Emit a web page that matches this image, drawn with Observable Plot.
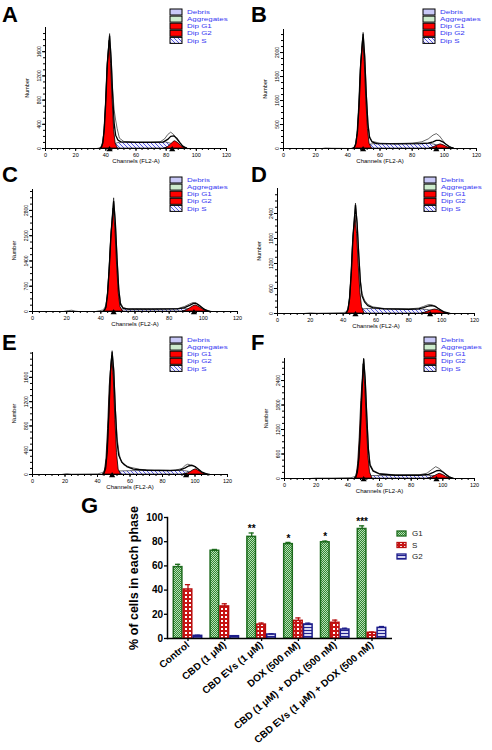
<!DOCTYPE html>
<html><head><meta charset="utf-8">
<script src="https://cdn.jsdelivr.net/npm/d3@7"></script>
<script src="https://cdn.jsdelivr.net/npm/@observablehq/plot@0.6"></script>
<style>
body{margin:0;background:#fff;}
#page{position:relative;width:492px;height:750px;overflow:hidden;background:#fff;font-family:"Liberation Sans",Arial,sans-serif;}
.panel{position:absolute;}
.letter{position:absolute;font:bold 22px "Liberation Sans",Arial,sans-serif;line-height:1;color:#000;}
</style></head><body>
<svg width="0" height="0" style="position:absolute">
<defs>
<pattern id="hatchS" patternUnits="userSpaceOnUse" width="4" height="4">
<rect width="4" height="4" fill="#f2f2ff"/>
<path d="M-1,-1 L5,5 M-1,3 L1,5 M3,-1 L5,1" stroke="#3030d8" stroke-width="0.8"/>
</pattern>
<pattern id="patG1" patternUnits="userSpaceOnUse" width="2" height="2">
<rect width="2" height="2" fill="#b9dcb9"/>
<rect width="1" height="1" fill="#2f8a2f"/>
<rect x="1" y="1" width="1" height="1" fill="#2f8a2f"/>
</pattern>
<pattern id="patS" patternUnits="userSpaceOnUse" width="4" height="4">
<rect width="4" height="4" fill="#c81414"/>
<rect x="1" y="1" width="2" height="2" fill="#ffffff"/>
</pattern>
<pattern id="patG2" patternUnits="userSpaceOnUse" width="3" height="3">
<rect width="3" height="3" fill="#d6d6f2"/>
<rect width="3" height="1" fill="#22228f"/>
</pattern>
</defs></svg>
<div id="page"></div>
<script>
// ---------- Histogram panels A–F (channel, count) ----------
const xTicksH = [0, 20, 40, 60, 80, 100, 120];
const legendNames = ["Debris", "Aggregates", "Dip G1", "Dip G2", "Dip S"];

// Panel A
const aTicks = [0, 400, 800, 1200, 1600];
const aG1 = [[37,0],[38,40],[39,250],[40,700],[41,1300],[42.5,1780],[43.5,1400],[44.5,800],[45.5,300],[46.5,80],[48,0]];
const aS = [[43,0],[45,40],[47,80],[49,95],[60,100],[70,100],[80,100],[83,80],[86,50],[89,20],[92,0]];
const aG2 = [[79,0],[81,20],[83,60],[85,110],[86,120],[88,90],[90,40],[92,10],[94,0]];
const aFit = [[36,0],[37,20],[38,90],[39,320],[40,780],[41,1400],[42.5,1860],[43.5,1480],[44.5,900],[45.5,420],[46.5,220],[48,140],[50,110],[60,100],[70,100],[78,105],[81,150],[83,200],[85,210],[87,170],[89,100],[91,40],[94,0]];
const aRaw = [[0,0],[34,0],[36,10],[37,40],[38,120],[39,380],[40,850],[41,1450],[42.5,1900],[43.5,1520],[44.5,980],[45.5,640],[46.5,470],[47.5,330],[49,170],[52,115],[60,100],[70,100],[76,110],[79,160],[81,230],[83,270],[85,230],[87,150],[89,90],[91,35],[94,0],[120,0]];
const aPeaks = [42.5, 84];

// Panel B
const bTicks = [0, 500, 1000, 1500, 2000];
const bG1 = [[44,0],[45,50],[46,300],[47,850],[48,1650],[49.5,2300],[50.5,1800],[51.5,1000],[52.5,400],[53.5,100],[55,0]];
const bS = [[50,0],[52,40],[54,80],[56,90],[70,95],[85,100],[91,100],[94,80],[97,50],[100,20],[103,0]];
const bG2 = [[91,0],[93,20],[95,50],[97,80],[98,85],[100,60],[102,25],[104,5],[106,0]];
const bFit = [[43,0],[44,20],[45,100],[46,350],[47,900],[48,1750],[49.5,2380],[50.5,1900],[51.5,1100],[52.5,500],[53.5,230],[55,140],[58,100],[70,95],[85,100],[90,110],[93,140],[95,170],[97,170],[99,140],[101,90],[103,40],[106,0]];
const bRaw = [[0,0],[24,0],[26,10],[30,5],[42,0],[44,30],[45,120],[46,380],[47,950],[48,1800],[49.5,2420],[50.5,1950],[51.5,1150],[52.5,550],[53.5,260],[55,150],[60,110],[70,100],[80,110],[86,140],[90,200],[93,280],[95,310],[97,260],[99,170],[101,90],[103,40],[106,0],[120,0]];
const bPeaks = [49.5, 95];

// Panel C
const cTicks = [0, 700, 1400, 2100, 2800];
const cG1 = [[42,0],[43,60],[44,400],[45,1100],[46,2000],[47.5,2850],[48.5,2300],[49.5,1300],[50.5,500],[51.5,120],[53,0]];
const cS = [[48,0],[50,30],[53,55],[60,60],[70,60],[80,65],[88,70],[92,60],[95,40],[98,15],[101,0]];
const cG2 = [[88,0],[90,25],[92,80],[94,140],[95.5,170],[97,140],[99,80],[101,25],[103,0]];
const cFit = [[41,0],[42,30],[43,120],[44,500],[45,1250],[46,2150],[47.5,3050],[48.5,2450],[49.5,1450],[50.5,600],[51.5,200],[53,90],[56,65],[70,65],[85,75],[89,110],[92,170],[94,220],[95.5,230],[97,190],[99,120],[101,50],[104,0]];
const cRaw = [[0,0],[18,0],[21,25],[23,35],[25,10],[27,0],[37,0],[39,20],[41,40],[42,80],[43,180],[44,560],[45,1300],[46,2250],[47.5,3150],[48.5,2500],[49.5,1500],[50.5,650],[51.5,250],[53,110],[56,70],[70,65],[85,80],[89,140],[92,210],[94,250],[96,230],[98,160],[100,80],[102,30],[105,0],[120,0]];
const cPeaks = [47.5, 94.5];

// Panel D
const dTicks = [0, 600, 1200, 1800, 2400];
const dG1 = [[42,0],[43,50],[44,300],[45,900],[46,1700],[47.5,2350],[48.5,1900],[49.5,1150],[50.5,500],[51.5,150],[53,0]];
const dS = [[46,0],[49,60],[52,100],[56,110],[65,100],[80,95],[88,95],[91,85],[94,60],[97,30],[100,10],[103,0]];
const dG2 = [[88,0],[90,20],[92,50],[94,80],[96,95],[98,80],[100,45],[102,15],[104,0]];
const dFit = [[41,0],[42,20],[43,100],[44,380],[45,1000],[46,1850],[47.5,2600],[48.5,2150],[49.5,1400],[50.5,750],[51.5,420],[53,280],[55,190],[58,140],[65,110],[80,100],[86,110],[89,140],[92,180],[94,190],[96,170],[98,120],[100,70],[102,30],[105,0]];
const dRaw = [[0,0],[16,0],[20,15],[24,5],[30,10],[40,20],[42,40],[43,130],[44,420],[45,1050],[46,1900],[47.5,2650],[48.5,2200],[49.5,1450],[50.5,800],[51.5,480],[53,320],[55,220],[58,160],[65,120],[80,110],[86,130],[89,170],[92,215],[94,210],[96,180],[98,120],[100,70],[102,30],[105,0],[120,0]];
const dPeaks = [47.5, 93];

// Panel E
const eTicks = [0, 400, 800, 1200, 1600];
const eG1 = [[43.5,0],[44.5,40],[45.5,250],[46.5,750],[47.5,1450],[49,1950],[50,1600],[51,900],[52,350],[53,80],[54.5,0]];
const eS = [[48,0],[51,30],[54,50],[60,55],[75,60],[90,60],[94,55],[97,40],[100,20],[103,5],[106,0]];
const eG2 = [[93,0],[95,10],[97,35],[99,70],[100.5,85],[102,65],[104,30],[106,8],[108,0]];
const eFit = [[43,0],[44,20],[45,100],[46,380],[47,1000],[48,1700],[49,2010],[50,1700],[51,1050],[52,550],[53,320],[55,200],[58,130],[62,90],[70,70],[85,65],[91,75],[94,110],[96,140],[98,150],[100,130],[102,90],[104,45],[107,10],[109,0]];
const eRaw = [[0,0],[18,0],[21,15],[24,5],[40,10],[43,30],[44,60],[45,130],[46,420],[47,1050],[48,1750],[49,2040],[50,1750],[51,1100],[52,620],[53,400],[54,260],[56,160],[60,120],[66,85],[75,70],[88,70],[92,100],[94,150],[95.5,170],[97,160],[99,150],[101,110],[103,60],[105,25],[108,0],[120,0]];
const ePeaks = [49, 94.5];

// Panel F
const fTicks = [0, 600, 1200, 1800, 2400];
const fG1 = [[44.5,0],[45.5,60],[46.5,350],[47.5,1000],[48.5,1900],[50,2800],[51,2250],[52,1350],[53,550],[54,150],[55.5,0]];
const fS = [[49,0],[52,40],[55,60],[65,60],[80,65],[90,70],[94,60],[97,40],[100,15],[103,0]];
const fG2 = [[91,0],[93,20],[95,60],[97,100],[98,115],[100,90],[102,45],[104,12],[106,0]];
const fFit = [[44,0],[45,25],[46,150],[47,500],[48,1250],[49,2200],[50,2920],[51,2400],[52,1500],[53,700],[54,320],[56,180],[60,110],[70,80],[85,80],[91,100],[94,150],[96,190],[98,200],[100,160],[102,100],[104,40],[107,0]];
const fRaw = [[0,0],[16,0],[20,10],[30,10],[42,20],[44,40],[45,80],[46,200],[47,560],[48,1300],[49,2250],[50,2950],[51,2450],[52,1550],[53,750],[54,360],[56,200],[60,120],[70,90],[85,90],[90,130],[93,220],[95.5,290],[98,240],[100,170],[102,100],[104,40],[107,0],[120,0]];
const fPeaks = [50, 96];

// ---------- Panel G (bar chart) ----------
const groups = ["Control", "CBD (1 μM)", "CBD EVs (1 μM)", "DOX (500 nM)", "CBD (1 μM) + DOX (500 nM)", "CBD EVs (1 μM) + DOX (500 nM)"];
const phases = ["G1", "S", "G2"];
const g1Mean = [59, 72.5, 84, 78, 79.5, 90.5];
const g1Err  = [2.3, 1.1, 3.2, 1.4, 1.0, 2.6];
const sMean  = [40.5, 26.5, 11.5, 14.6, 13, 4.7];
const sErr   = [4.0, 2.2, 1.3, 2.4, 2.2, 0.6];
const g2Mean = [2.2, 1.9, 3.3, 11.6, 7.4, 8.8];
const g2Err  = [0.5, 0.3, 0.5, 1.1, 1.1, 1.1];
const stars  = ["", "", "**", "*", "*", "***"];
const gYTicks = [0, 20, 40, 60, 80, 100];

const FONT = '"Liberation Sans", Arial, sans-serif';
const page = document.getElementById("page");

function place(node, left, top) {
  const div = document.createElement("div");
  div.className = "panel";
  div.style.left = left + "px";
  div.style.top = top + "px";
  div.appendChild(node);
  page.appendChild(div);
}

function letter(t, left, top) {
  const d = document.createElement("div");
  d.className = "letter";
  d.textContent = t;
  d.style.left = left + "px";
  d.style.top = top + "px";
  page.appendChild(d);
}

const legendFills = ["#c9c9f7", "#cdeccd", "#ff0000", "#ff0000", "url(#hatchS)"];

function hist(c) {
  const [bx, by, bw, bh] = c.box;
  const X = d => d[0], Y = d => d[1];
  const step = c.ticks[1] / 4;
  const svg = Plot.plot({
    width: bw, height: bh,
    marginLeft: c.x0 - bx, marginRight: bx + bw - c.x1,
    marginTop: c.yTop - by, marginBottom: by + bh - c.yBase,
    style: {fontFamily: FONT, overflow: "visible", background: "transparent", color: "#000"},
    x: {domain: [0, 120]},
    y: {domain: [0, c.ymax]},
    marks: [
      Plot.areaY(c.s, {x: X, y: Y, fill: "url(#hatchS)", stroke: "#111", strokeWidth: 0.6}),
      Plot.areaY(c.g1, {x: X, y: Y, fill: "#ff0000", stroke: "#000", strokeWidth: 0.8}),
      Plot.areaY(c.g2, {x: X, y: Y, fill: "#ff0000", stroke: "#000", strokeWidth: 0.8}),
      Plot.lineY(c.raw, {x: X, y: Y, stroke: "#000", strokeWidth: 0.6}),
      Plot.lineY(c.fit, {x: X, y: Y, stroke: "#000", strokeWidth: 1.3}),
      Plot.ruleY([0], {stroke: "#000", strokeWidth: 1}),
      Plot.ruleX([0], {stroke: "#000", strokeWidth: 1}),
      Plot.axisX({ticks: d3.range(0, 121, 4), tickSize: 2, tickFormat: () => "", label: null}),
      Plot.axisX({ticks: xTicksH, tickSize: 3, tickPadding: 1.5, fontSize: 5.5, tickFormat: d => String(d), label: null}),
      Plot.axisY({ticks: d3.range(0, c.ymax, step), tickSize: 2, tickFormat: () => "", label: null}),
      Plot.axisY({ticks: c.ticks, tickSize: 3, tickPadding: 2, tickRotate: -90, fontSize: 5, tickFormat: d => String(d), label: null}),
      Plot.text(["Channels (FL2-A)"], {frameAnchor: "bottom", textAnchor: "middle", dy: 14, fontSize: 6}),
      Plot.text(["Number"], {frameAnchor: "left", textAnchor: "middle", rotate: -90, dx: -18, fontSize: 5.5}),
      Plot.dot(c.peaks, {x: d => d, y: () => 0, symbol: "triangle", r: 2.3, fill: "#000", stroke: "none", dy: 1})
    ]
  });
  // Legend (ModFit style): text is wide but short, so it is stretched horizontally
  const g = d3.select(svg).append("g").attr("font-family", FONT).attr("font-size", 6).attr("text-anchor", "start");
  legendNames.forEach((name, i) => {
    const y = c.leg[1] - by + i * 7.1;
    const x = c.leg[0] - bx;
    g.append("rect").attr("x", x).attr("y", y - 3).attr("width", 12).attr("height", 6)
      .attr("fill", legendFills[i]).attr("stroke", "#000").attr("stroke-width", 1);
    g.append("text").attr("transform", `translate(${x + 17},${y}) scale(1.33,1)`)
      .attr("dy", "0.35em").attr("fill", "#3636f2").text(name);
  });
  place(svg, bx, by);
}

hist({box: [0, 0, 246, 165], x0: 45, x1: 226, yBase: 148, yTop: 27, ymax: 2000, ticks: aTicks,
  g1: aG1, s: aS, g2: aG2, fit: aFit, raw: aRaw, peaks: aPeaks, leg: [170, 12]});
hist({box: [246, 0, 246, 165], x0: 283, x1: 476, yBase: 148, yTop: 29, ymax: 2480, ticks: bTicks,
  g1: bG1, s: bS, g2: bG2, fit: bFit, raw: bRaw, peaks: bPeaks, leg: [423, 12]});
hist({box: [0, 160, 246, 170], x0: 32, x1: 237, yBase: 311, yTop: 189, ymax: 3380, ticks: cTicks,
  g1: cG1, s: cS, g2: cG2, fit: cFit, raw: cRaw, peaks: cPeaks, leg: [170, 180]});
hist({box: [246, 160, 246, 170], x0: 277, x1: 474, yBase: 313, yTop: 188, ymax: 3000, ticks: dTicks,
  g1: dG1, s: dS, g2: dG2, fit: dFit, raw: dRaw, peaks: dPeaks, leg: [424, 180]});
hist({box: [0, 320, 246, 175], x0: 32, x1: 227, yBase: 474, yTop: 352, ymax: 2010, ticks: eTicks,
  g1: eG1, s: eS, g2: eG2, fit: eFit, raw: eRaw, peaks: ePeaks, leg: [170, 340]});
hist({box: [246, 320, 246, 175], x0: 284, x1: 474, yBase: 478, yTop: 358, ymax: 2940, ticks: fTicks,
  g1: fG1, s: fS, g2: fG2, fit: fFit, raw: fRaw, peaks: fPeaks, leg: [424, 340]});

// ---------- Panel G ----------
const rows = groups.flatMap((g, i) => [
  {group: g, phase: "G1", mean: g1Mean[i], err: g1Err[i], star: stars[i]},
  {group: g, phase: "S", mean: sMean[i], err: sErr[i], star: ""},
  {group: g, phase: "G2", mean: g2Mean[i], err: g2Err[i], star: ""}
]);
const GL = 100, GT = 495, GW = 300, GH = 255;
const mL = 67, mR = 8, mT = 22, mB = 112;
const pInner = 0.228, pOuter = 0.171;
const stepG = (GW - mL - mR) / (groups.length - pInner + 2 * pOuter);
const bandW = stepG * (1 - pInner);
const barW = 8.6, gap = (bandW - 3 * barW) / 2;
const phaseStyle = {
  G1: {fill: "url(#patG1)", stroke: "#1d6b1d"},
  S: {fill: "url(#patS)", stroke: "#b80f0f"},
  G2: {fill: "url(#patG2)", stroke: "#1c1c8a"}
};
const gMarks = [];
phases.forEach((ph, k) => {
  const data = rows.filter(d => d.phase === ph);
  const left = k * (barW + gap);
  const right = bandW - left - barW;
  const off = left + barW / 2 - bandW / 2;
  const st = phaseStyle[ph];
  gMarks.push(
    Plot.barY(data, {x: "group", y: "mean", fill: st.fill, stroke: st.stroke, strokeWidth: 1.5, insetLeft: left, insetRight: right}),
    Plot.ruleX(data, {x: "group", y1: "mean", y2: d => d.mean + d.err, dx: off, stroke: st.stroke, strokeWidth: 1.3}),
    Plot.tickY(data, {x: "group", y: d => d.mean + d.err, stroke: st.stroke, strokeWidth: 1.3, insetLeft: left + barW / 2 - 2.6, insetRight: right + barW / 2 - 2.6})
  );
  if (ph === "G1") {
    gMarks.push(Plot.text(data.filter(d => d.star), {x: "group", y: d => d.mean + d.err, text: "star", dx: off, dy: -4, fontSize: 10, fontWeight: "bold", fill: "#000"}));
  }
});
const gSvg = Plot.plot({
  width: GW, height: GH,
  marginLeft: mL, marginRight: mR, marginTop: mT, marginBottom: mB,
  style: {fontFamily: FONT, overflow: "visible", background: "transparent", color: "#000"},
  x: {type: "band", domain: groups, paddingInner: pInner, paddingOuter: pOuter, align: 0.5, round: false},
  y: {domain: [0, 100]},
  marks: [
    ...gMarks,
    Plot.ruleY([0], {stroke: "#000", strokeWidth: 1.5}),
    Plot.frame({anchor: "left", stroke: "#000", strokeWidth: 1.5}),
    Plot.axisY({ticks: gYTicks, tickSize: 3, tickPadding: 1.5, fontSize: 10, fontWeight: "bold", label: null, strokeWidth: 1.3}),
    Plot.axisX({tickSize: 3, tickPadding: 2, tickRotate: -40, fontSize: 10, fontWeight: "bold", label: null, strokeWidth: 1.3}),
    Plot.text(["% of cells in each phase"], {frameAnchor: "left", textAnchor: "middle", rotate: -90, dx: -34, fontSize: 12.5, fontWeight: "bold", fill: "#000"})
  ]
});
place(gSvg, GL, GT);

// Legend for panel G
const legSvg = d3.create("svg").attr("width", 40).attr("height", 40).attr("font-family", FONT).attr("font-size", 8);
phases.forEach((ph, i) => {
  const y = 8.5 + i * 11.5;
  legSvg.append("rect").attr("x", 6).attr("y", y - 2.5).attr("width", 9).attr("height", 5)
    .attr("fill", phaseStyle[ph].fill).attr("stroke", phaseStyle[ph].stroke).attr("stroke-width", 1.3);
  legSvg.append("text").attr("x", 21).attr("y", y).attr("dy", "0.35em").attr("fill", "#222").text(ph);
});
place(legSvg.node(), 391, 525);

// Panel letters
letter("A", 2, 4); letter("B", 251, 4);
letter("C", 2, 164); letter("D", 251, 164);
letter("E", 2, 332); letter("F", 251, 332);
letter("G", 81, 495);
</script>
</body></html>
